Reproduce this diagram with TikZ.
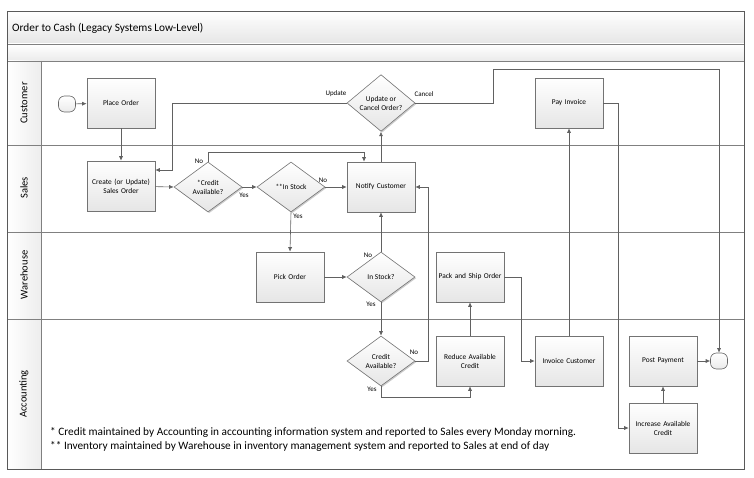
\documentclass[tikz,border=0pt]{standalone}
\usepackage{fontspec}
\setmainfont{Carlito}
\usetikzlibrary{arrows.meta,shapes.geometric,shadows,calc}
\begin{document}
\begin{tikzpicture}[x=1pt,y=-1pt,
  line/.style={draw=black!62,line width=0.6pt},
  arr/.style={line,-{Latex[length=4.5pt,width=4pt]}},
  boxnode/.style={draw=black!55,line width=0.6pt,top color=white,bottom color=black!10,
    minimum width=68pt,minimum height=50pt,inner sep=1pt,align=center,text width=64pt,
    font=\fontsize{7.4}{9}\selectfont,
    drop shadow={shadow xshift=1.2pt,shadow yshift=-1.2pt,opacity=0.25,fill=black}},
  dia/.style={diamond,draw=black!55,line width=0.6pt,top color=white,bottom color=black!10,
    minimum width=68pt,minimum height=50pt,inner sep=0pt,align=center,
    font=\fontsize{7.4}{9}\selectfont,
    drop shadow={shadow xshift=1.2pt,shadow yshift=-1.2pt,opacity=0.2,fill=black}},
  term/.style={draw=black!60,line width=0.6pt,rounded corners=6pt,top color=white,bottom color=black!8,
    minimum width=17pt,minimum height=16pt,inner sep=0pt},
  lbl/.style={font=\fontsize{7}{8}\selectfont,inner sep=0pt},
  lanelbl/.style={rotate=90,font=\fontsize{10.5}{12}\selectfont,inner sep=0pt},
  sep/.style={draw=black!50,line width=0.9pt}
]
\useasboundingbox (0,0) rectangle (754,478);
% frame and bands
\shade[top color=white,bottom color=black!10] (7,11) rectangle (744,44);
\shade[top color=white,bottom color=black!8] (7,44) rectangle (744,61);
\shade[left color=white,right color=black!7] (7,61) rectangle (41,469);
\draw[sep] (7,44) -- (744,44);
\draw[sep] (7,61) -- (744,61);
\draw[sep] (7,145) -- (744,145);
\draw[sep] (7,232) -- (744,232);
\draw[sep] (7,319) -- (744,319);
\draw[sep] (41,61) -- (41,469);
\draw[draw=black!65,line width=0.9pt] (7,11) rectangle (744,469);
\node[anchor=west,font=\fontsize{11.3}{13}\selectfont,inner sep=0pt] (title) at (12,28) {Order to Cash (Legacy Systems Low-Level)};
% lane labels
\node[lanelbl] (lcust) at (24,103) {Customer};
\node[lanelbl] (lsales) at (24,188) {Sales};
\node[lanelbl] (lware) at (24,275) {Warehouse};
\node[lanelbl] (lacct) at (24,394) {Accounting};
% nodes
\node[term] (start) at (67,104) {};
\node[boxnode] (place) at (121,103) {Place Order};
\node[boxnode] (create) at (121,186) {Create (or Update)\\Sales Order};
\node[dia] (cred1) at (208,187) {*Credit\\Available?};
\node[dia] (instock1) at (291,187) {**In Stock};
\node[boxnode] (notify) at (381,187) {Notify Customer};
\node[dia] (upd) at (381,103) {Update or\\Cancel Order?};
\node[boxnode] (pay) at (569,103) {Pay Invoice};
\node[boxnode] (pick) at (290,277) {Pick Order};
\node[dia] (instock2) at (381,277) {In Stock?};
\node[dia] (cred2) at (381,361) {Credit\\Available?};
\node[boxnode] (pack) at (470,277) {Pack and Ship Order};
\node[boxnode] (reduce) at (470,361) {Reduce Available\\Credit};
\node[boxnode] (invoice) at (569,361) {Invoice Customer};
\node[boxnode] (post) at (663,361) {Post Payment};
\node[boxnode] (increase) at (663,428) {Increase Available\\Credit};
\node[term] (end) at (719,361) {};
% connectors
\draw[arr] (start) -- (place);
\draw[arr] (place) -- (create);
\draw[arr] (create) -- (cred1.west);
\draw[arr] (cred1.east) -- (instock1.west);
\draw[arr] (cred1.north) -- ([yshift=9pt]cred1.north) -| ([xshift=-17pt]notify.north);
\draw[arr] (instock1.east) -- (notify.west);
\draw[arr] (instock1.south) -- (pick.north);
\draw[arr] (pick.east) -- (instock2.west);
\draw[arr] (instock2.north) -- (notify.south);
\draw[arr] (instock2.south) -- (cred2.north);
\draw[arr] (cred2.east) -- ++(13,0) |- ([xshift=0pt]notify.east);
\draw[arr] (cred2.south) -- ++(0,11) -| (reduce.south);
\draw[arr] (reduce.north) -- (pack.south);
\draw[arr] (pack.east) -- ++(17,0) |- (invoice.west);
\draw[arr] (invoice.north) -- (pay.south);
\draw[arr] (pay.east) -- ++(15,0) |- (increase.west);
\draw[arr] (increase.north) -- (post.south);
\draw[arr] (post.east) -- (end.west);
\draw[arr] (notify.north) -- (upd.south);
\draw[arr] (upd.west) -| ([xshift=17pt,yshift=16pt]create.east) -- ([yshift=16pt]create.east);
\draw[arr] (upd.east) -- ++(78,0) -- ++(0,-34) -| (end.north);
% labels
\node[lbl] (l1) at (244,195) {Yes};
\node[lbl] (l2) at (199,161) {No};
\node[lbl] (l3) at (323,180) {No};
\node[lbl] (l4) at (298,216) {Yes};
\node[lbl] (l5) at (368,255) {No};
\node[lbl] (l6) at (371,304) {Yes};
\node[lbl] (l7) at (414,352) {No};
\node[lbl] (l8) at (372,389) {Yes};
\node[lbl] (l9) at (336,94) {Update};
\node[lbl] (l10) at (424,94) {Cancel};
% footnotes
\node[anchor=west,font=\fontsize{11.3}{13}\selectfont,inner sep=0pt] (fn1) at (50,432) {* Credit maintained by Accounting in accounting information system and reported to Sales every Monday morning.};
\node[anchor=west,font=\fontsize{11.3}{13}\selectfont,inner sep=0pt] (fn2) at (50,446) {** Inventory maintained by Warehouse in inventory management system and reported to Sales at end of day};
\end{tikzpicture}
\end{document}
